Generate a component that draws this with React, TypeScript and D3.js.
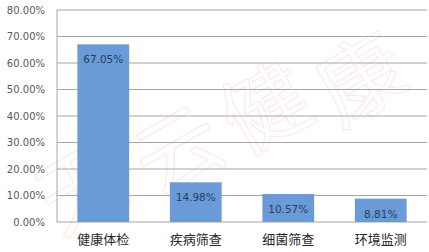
import React from "react";
import * as d3 from "d3";

const categories = ["健康体检", "疾病筛查", "细菌筛查", "环境监测"];
const values = [0.6705, 0.1498, 0.1057, 0.0881];
const yTicks = [0, 0.1, 0.2, 0.3, 0.4, 0.5, 0.6, 0.7, 0.8];
const watermark = ["天", "云", "健", "康"];

const W = 429;
const H = 252;
const M = { left: 57, right: 2, top: 10, bottom: 30 };

export default function App() {
  const x = d3
    .scaleBand<string>()
    .domain(categories)
    .range([M.left, W - M.right])
    .paddingInner(0.44)
    .paddingOuter(0.22);
  const y = d3.scaleLinear().domain([0, 0.8]).range([H - M.bottom, M.top]);
  const fmt = (v: number) => (v * 100).toFixed(2) + "%";
  const wmX = [78, 175, 262, 358];
  const wmY = [182, 145, 103, 74];

  return (
    <svg
      width={W}
      height={H}
      style={{ position: "absolute", left: 0, top: 0, background: "#fff" }}
    >
      <rect width={W} height={H} fill="#fff" />
      {watermark.map((c, i) => (
        <text
          key={c}
          x={wmX[i]}
          y={wmY[i]}
          fontSize={86}
          fontFamily="'Noto Sans CJK SC'"
          fill="none"
          stroke="#f6c4c8"
          strokeWidth={1}
          opacity={0.4}
          textAnchor="middle"
          dominantBaseline="central"
          transform={`rotate(-30 ${wmX[i]} ${wmY[i]})`}
        >
          {c}
        </text>
      ))}
      {yTicks.map((t) => (
        <g key={t}>
          <line
            x1={M.left}
            x2={W - M.right}
            y1={y(t)}
            y2={y(t)}
            stroke="#a6a6a6"
            strokeWidth={1}
          />
          <text
            x={45}
            y={y(t) + 3.5}
            textAnchor="end"
            fontSize={10}
            fontFamily="'DejaVu Sans'"
            fill="#595959"
          >
            {fmt(t)}
          </text>
        </g>
      ))}
      <line
        x1={M.left}
        x2={M.left}
        y1={y(0.8)}
        y2={y(0)}
        stroke="#a6a6a6"
      />
      {categories.map((c, i) => (
        <g key={c}>
          <rect
            x={x(c)!}
            y={y(values[i])}
            width={x.bandwidth()}
            height={y(0) - y(values[i])}
            fill="#6a9bd8"
          />
          <text
            x={x(c)! + x.bandwidth() / 2}
            y={y(values[i]) + 19}
            textAnchor="middle"
            fontSize={10.5}
            fontFamily="'DejaVu Sans'"
            fill="#243f60"
          >
            {fmt(values[i])}
          </text>
          <text
            x={x(c)! + x.bandwidth() / 2}
            y={244}
            textAnchor="middle"
            fontSize={13}
            fontFamily="'Noto Sans CJK SC'"
            fill="#262626"
          >
            {c}
          </text>
        </g>
      ))}
    </svg>
  );
}
